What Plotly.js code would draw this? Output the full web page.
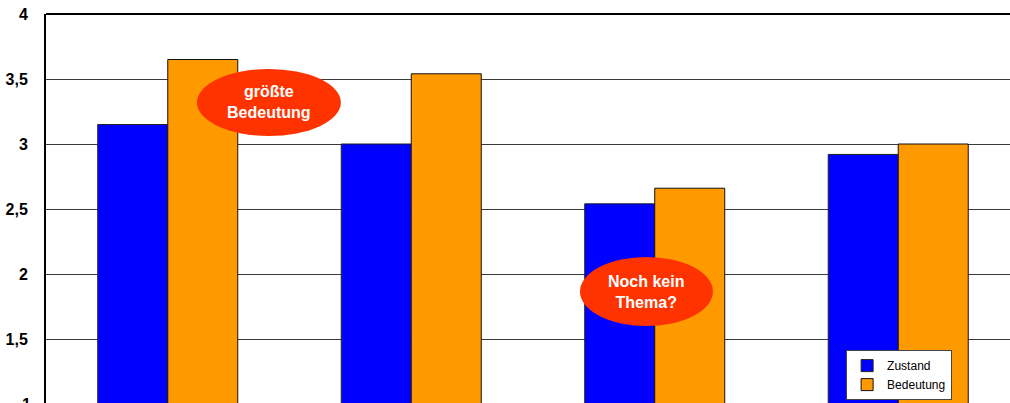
<!DOCTYPE html>
<html>
<head>
<meta charset="utf-8">
<script src="https://cdn.plot.ly/plotly-3.0.1.min.js"></script>
<style>
html,body{margin:0;padding:0;background:#fff;overflow:hidden;}
#chart{width:1010px;height:403px;}
</style>
</head>
<body>
<div id="chart"></div>
<script>
// Data (categories below the visible crop are unknown; placeholder names, labels hidden)
const categories = ["Bereich 1", "Bereich 2", "Bereich 3", "Bereich 4"];
const zustand   = [3.15, 3.00, 2.54, 2.92];
const bedeutung = [3.65, 3.54, 2.66, 3.00];
const seriesNames = ["Zustand", "Bedeutung"];
const yTickVals = [1, 1.5, 2, 2.5, 3, 3.5, 4];

const FONT = "Liberation Sans, Arial, sans-serif";

const traces = [
  {type: "bar", name: seriesNames[0], x: categories, y: zustand,
   marker: {color: "#0000FF", line: {color: "#222222", width: 1}}},
  {type: "bar", name: seriesNames[1], x: categories, y: bedeutung,
   marker: {color: "#FF9900", line: {color: "#111111", width: 1}}}
];

const layout = {
  width: 1010, height: 403,
  margin: {l: 46, r: 0, t: 14, b: 0, pad: 0},
  paper_bgcolor: "#ffffff", plot_bgcolor: "#ffffff",
  separators: ",.",
  barmode: "group", bargap: 0.425, bargroupgap: 0,
  showlegend: true,
  legend: {
    x: 0.83, y: 0.136, xanchor: "left", yanchor: "top",
    bgcolor: "#ffffff", bordercolor: "#444444", borderwidth: 1,
    font: {family: FONT, size: 12, color: "#000"},
    tracegroupgap: 0, itemwidth: 30
  },
  xaxis: {
    type: "category", range: [-0.5, 3.459],
    showticklabels: false, showgrid: false, zeroline: false, showline: false, ticks: ""
  },
  yaxis: {
    range: [1.008, 4], tickvals: yTickVals, ticks: "", ticklabelstandoff: 13,
    showgrid: true, gridcolor: "#3a3a3a", gridwidth: 1, zeroline: false,
    showline: true, linecolor: "#000", linewidth: 2,
    tickfont: {family: FONT, size: 16, color: "#000", weight: "bold"}
  },
  shapes: [
    {type: "line", xref: "paper", yref: "paper", x0: 0, x1: 1, y0: 1, y1: 1,
     line: {color: "#000", width: 2}},
    {type: "circle", xref: "x", yref: "y", x0: 0.12, x1: 0.711, y0: 3.062, y1: 3.577,
     fillcolor: "#FF3300", line: {width: 0}, layer: "above"},
    {type: "circle", xref: "x", yref: "y", x0: 1.693, x1: 2.239, y0: 1.60, y1: 2.131,
     fillcolor: "#FF3300", line: {width: 0}, layer: "above"}
  ],
  annotations: [
    {xref: "x", yref: "y", x: 0.4155, y: 3.32, text: "größte<br>Bedeutung", showarrow: false,
     font: {family: FONT, size: 16, color: "#ffffff", weight: "bold"}, align: "center"},
    {xref: "x", yref: "y", x: 1.966, y: 1.865, text: "Noch kein<br>Thema?", showarrow: false,
     font: {family: FONT, size: 16, color: "#ffffff", weight: "bold"}, align: "center"},
    {xref: "paper", yref: "paper", x: 0, y: -0.0027, xanchor: "right", yanchor: "middle",
     xshift: -13, text: "1", showarrow: false,
     font: {family: FONT, size: 16, color: "#000", weight: "bold"}}
  ]
};

Plotly.newPlot("chart", traces, layout, {displayModeBar: false, staticPlot: true});
</script>
</body>
</html>
